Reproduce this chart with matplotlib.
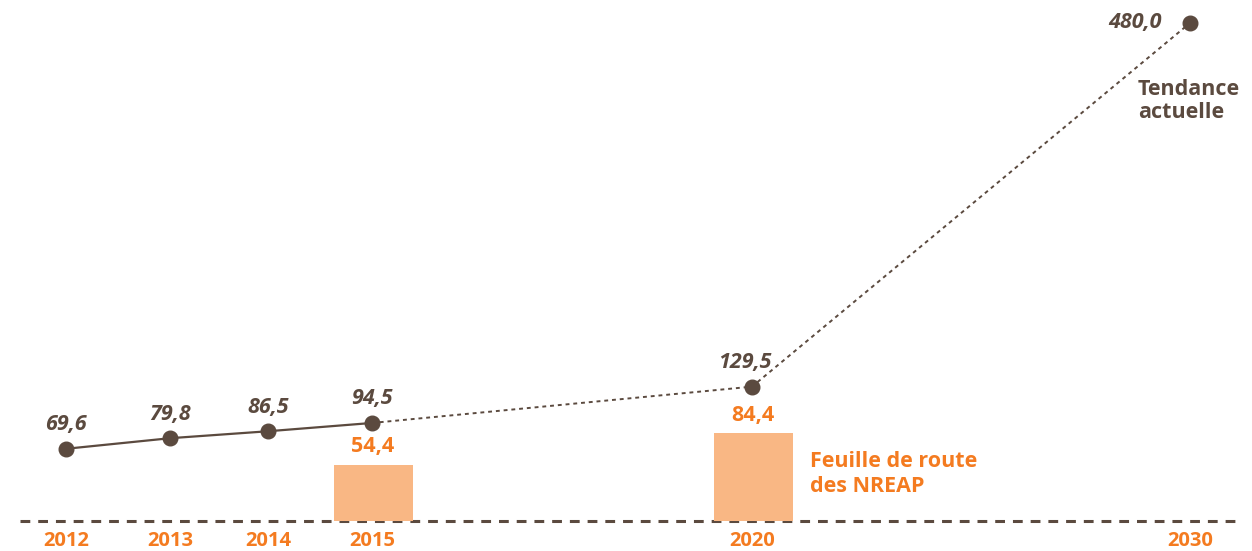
import matplotlib
matplotlib.use("Agg")
import matplotlib.pyplot as plt

# ---- data ----
years = ["2012", "2013", "2014", "2015", "2020", "2030"]
trend_values = [69.6, 79.8, 86.5, 94.5, 129.5, 480.0]
bar_years = ["2015", "2020"]
bar_values = [54.4, 84.4]
trend_label = "Tendance\nactuelle"
bar_label = "Feuille de route\ndes NREAP"

# ---- layout ----
cat_pos = {"2012": 66, "2013": 170, "2014": 268, "2015": 372, "2020": 752, "2030": 1190}
W, H = 1252, 551
base_px = 521
scale = 1.0375  # px per unit

BROWN = "#5B4A3F"
ORANGE = "#F47B20"
BAR = "#F9B784"
FONT = "Open Sans"

def fmt(v):
    return f"{v:.1f}".replace(".", ",")

fig = plt.figure(figsize=(W / 100, H / 100), dpi=100)
ax = fig.add_axes([0, 0, 1, 1])
ax.set_xlim(0, W)
ax.set_ylim(-(H - base_px) / scale, base_px / scale)
ax.axis("off")

# baseline
ax.plot([20, 1235], [0, 0], color=BROWN, lw=2.2, dashes=(3.2, 2.6), zorder=1)

# bars
bx = [cat_pos[y] + 1 for y in bar_years]
ax.bar(bx, bar_values, width=79, color=BAR, zorder=2)
for x, v in zip(bx, bar_values):
    ax.text(x, v + 7, fmt(v), ha="center", va="bottom", color=ORANGE,
            fontsize=15.5, fontweight="bold", family=FONT)

# trend line
xs = [cat_pos[y] for y in years]
ax.plot(xs[:4], trend_values[:4], color=BROWN, lw=1.6, zorder=3)
ax.plot(xs[3:], trend_values[3:], color=BROWN, lw=1.4, dashes=(2, 2), zorder=3)
ax.plot(xs, trend_values, "o", color=BROWN, ms=10.5, zorder=4)

offsets = [(0, 13), (0, 13), (0, 13), (0, 13), (-7, 13)]
for (x, v, (dx, dy)) in zip(xs[:5], trend_values[:5], offsets):
    ax.text(x + dx, v + dy, fmt(v), ha="center", va="bottom", color=BROWN,
            fontsize=15.5, fontweight="bold", style="italic", family=FONT)
ax.text(xs[5] - 28, trend_values[5], fmt(trend_values[5]), ha="right", va="center",
        color=BROWN, fontsize=15.5, fontweight="bold", style="italic", family=FONT)

# year labels
for y in years:
    ax.text(cat_pos[y], -(541 - base_px) / scale, y, ha="center", va="center",
            color=ORANGE, fontsize=14.5, fontweight="bold", family=FONT)

ax.text(810, (base_px - 474) / scale, bar_label, ha="left", va="center", color=ORANGE,
        fontsize=15.5, fontweight="bold", family=FONT, linespacing=1.2)
ax.text(1138, (base_px - 101) / scale, trend_label, ha="left", va="center", color=BROWN,
        fontsize=15.5, fontweight="bold", family=FONT, linespacing=1.1)

fig.savefig("out.png", dpi=100, facecolor="white")
